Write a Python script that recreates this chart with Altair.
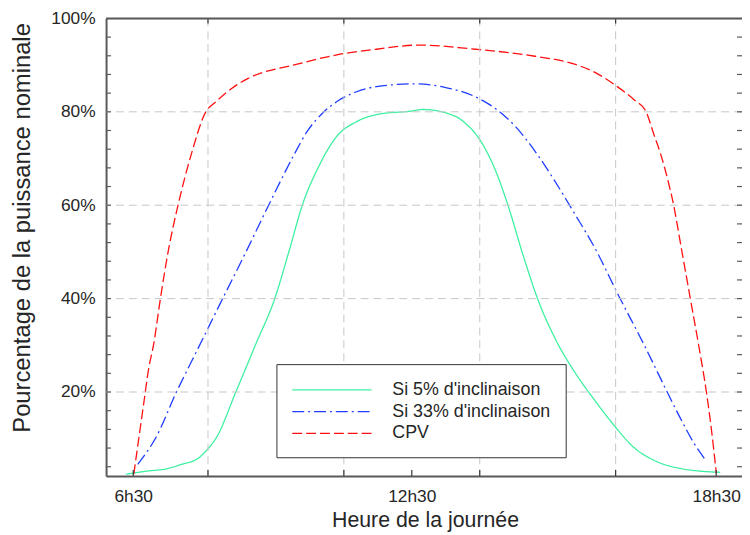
import altair as alt
import pandas as pd

# ---- data (x in sample-index units, y in % of nominal power) ----
series_names = ["Si 5% d'inclinaison", "Si 33% d'inclinaison", "CPV"]
series_colors = ["#3DF0A0", "#1F3DFF", "#FF1010"]
series_dash = [[1, 0], [12, 4, 2, 4], [10, 4]]

green_x = [39.6, 56.3, 68.7, 80.4, 92.8, 100.1, 105.9, 120.5, 135.1, 148.9, 159.9, 169.3,
           181.7, 194.9, 209.4, 227.7, 248.1, 258.3, 282.3, 289.6, 296.9, 304.2, 311.5,
           320.2, 331.9, 342.8, 355.2, 369.8, 384.4, 399.0, 413.5, 428.1, 450.0, 477.0]
green_y = [2.4, 3.1, 3.5, 4.5, 5.8, 7.9, 10.1, 20.0, 30.2, 39.8, 50.4, 59.9,
           68.4, 74.8, 77.9, 79.6, 80.1, 80.5, 79.0, 77.5, 75.3, 72.0, 67.5,
           60.5, 49.3, 39.8, 31.6, 24.3, 18.3, 12.8, 8.1, 5.4, 3.5, 2.8]

blue_x = [48.3, 52.7, 61.4, 76.8, 92.8, 109.6, 127.1, 143.8, 163.5, 173.0, 183.9,
          194.9, 209.4, 224.0, 253.2, 275.0, 296.9, 311.5, 326.1, 340.6, 355.2, 369.8,
          384.4, 402.6, 420.8, 437.6, 447.8, 457.3, 466.8]
blue_y = [4.5, 6.2, 10.1, 20.0, 29.4, 39.3, 49.5, 59.5, 70.9, 75.8, 79.6,
          82.2, 84.3, 85.4, 86.0, 85.2, 83.2, 80.7, 76.9, 71.6, 65.2, 58.2,
          51.0, 40.4, 30.2, 20.2, 14.3, 9.2, 5.2]

red_x = [45.4, 49.1, 52.7, 56.3, 60.0, 65.1, 70.9, 78.2, 87.7, 98.6, 105.2, 116.9, 129.2,
         165.7, 194.9, 224.0, 255.4, 296.9, 311.5, 340.6, 369.8, 384.4, 401.2, 413.5,
         422.3, 428.1, 433.2, 439.1, 442.0, 448.6, 455.1, 461.0, 466.8, 470.4, 474.1]
red_y = [2.4, 10.1, 17.5, 24.9, 30.2, 40.2, 50.4, 60.3, 70.9, 80.1, 82.0, 84.9, 87.1,
         90.2, 92.2, 93.4, 94.3, 93.4, 93.0, 91.9, 90.2, 88.5, 85.4, 82.6,
         80.1, 75.2, 70.9, 64.6, 61.0, 50.4, 39.8, 30.2, 20.0, 12.2, 2.6]

x_domain = [25, 493]
y_domain = [2, 100]
x_label_values = [45, 250, 474]
x_labels = ["6h30", "12h30", "18h30"]
x_grid_values = [100, 200, 300, 400]
y_label_values = [20, 40, 60, 80, 100]
y_grid_values = [20, 40, 60, 80]
y_minor_ticks = [4, 8, 12, 16, 20, 24, 28, 32, 36, 40, 44, 48, 52, 56, 60, 64, 68, 72,
                 76, 80, 84, 88, 92, 96]

W, H = 642, 462
FONT = "Liberation Sans"
AXIS_COLOR = "#595959"
GRID_COLOR = "#c6c6c9"
TEXT_COLOR = "#262626"

rows = []
for name, xs, ys in [(series_names[0], green_x, green_y),
                     (series_names[1], blue_x, blue_y),
                     (series_names[2], red_x, red_y)]:
    for i, (xv, yv) in enumerate(zip(xs, ys)):
        rows.append({"x": xv, "y": yv, "serie": name, "order": i})
df = pd.DataFrame(rows)

xscale = alt.Scale(domain=x_domain, nice=False, zero=False)
yscale = alt.Scale(domain=y_domain, nice=False, zero=False)

label_expr = " : ".join(
    f"datum.value == {v} ? '{l}'" for v, l in zip(x_label_values[:-1], x_labels[:-1])
) + f" : '{x_labels[-1]}'"

x_axis = alt.Axis(
    values=x_label_values, labelExpr=label_expr, ticks=False, grid=False,
    domainColor=AXIS_COLOR, domainWidth=2, labelFont=FONT, labelFontSize=17.5,
    labelColor=TEXT_COLOR, labelPadding=12, labelFlush=False,
    title="Heure de la journée", titleFont=FONT, titleFontSize=21.5,
    titleFontWeight="normal", titleColor=TEXT_COLOR, titleX=W / 2 + 1, titleY=51,
    titleBaseline="alphabetic", titleAlign="center")
y_axis = alt.Axis(
    values=y_label_values, labelExpr="datum.value + '%'", ticks=False, grid=False,
    domainColor=AXIS_COLOR, domainWidth=2, labelFont=FONT, labelFontSize=17.5,
    labelColor=TEXT_COLOR, labelPadding=11, labelBaseline="middle",
    title="Pourcentage de la puissance nominale", titleFont=FONT, titleFontSize=24,
    titleFontWeight="normal", titleColor=TEXT_COLOR, titleX=-77, titleY=211,
    titleAngle=-90, titleBaseline="alphabetic", titleAlign="center")

# custom wide line symbol: spans from -1 to 7 units (r = sqrt(size)/2 = 10 px)
legend_kw = dict(
    orient="none", legendX=172, legendY=349, title=None, direction="vertical",
    fillColor="white", strokeColor="#333333", padding=15, cornerRadius=0,
    symbolType="M-1,0H7", symbolSize=400, symbolStrokeWidth=1.3,
    labelFontSize=18, labelFont=FONT, labelColor=TEXT_COLOR, labelOffset=80,
    rowPadding=2, labelLimit=400,
)

lines = alt.Chart(df).mark_line(strokeWidth=1.3, interpolate="monotone").encode(
    x=alt.X("x:Q", scale=xscale, axis=x_axis),
    y=alt.Y("y:Q", scale=yscale, axis=y_axis),
    color=alt.Color("serie:N", scale=alt.Scale(domain=series_names, range=series_colors),
                    legend=alt.Legend(**legend_kw)),
    strokeDash=alt.StrokeDash("serie:N", scale=alt.Scale(domain=series_names, range=series_dash),
                              legend=alt.Legend(**legend_kw)),
    order="order:Q",
    detail="serie:N",
)

vgrid = alt.Chart(pd.DataFrame({"x": x_grid_values})).mark_rule(
    color=GRID_COLOR, strokeWidth=1, strokeDash=[8, 5]).encode(
    x=alt.X("x:Q", scale=xscale, axis=x_axis))
hgrid = alt.Chart(pd.DataFrame({"y": y_grid_values})).mark_rule(
    color=GRID_COLOR, strokeWidth=1, strokeDash=[8, 5]).encode(
    y=alt.Y("y:Q", scale=yscale, axis=y_axis))

left_ticks = alt.Chart(pd.DataFrame({"y": y_minor_ticks})).mark_rule(
    color=AXIS_COLOR, strokeWidth=1.2).encode(
    y=alt.Y("y:Q", scale=yscale, axis=y_axis), x=alt.value(0), x2=alt.value(5))
right_ticks = alt.Chart(pd.DataFrame({"y": y_minor_ticks})).mark_rule(
    color=AXIS_COLOR, strokeWidth=1.2).encode(
    y=alt.Y("y:Q", scale=yscale, axis=y_axis), x=alt.value(W - 5), x2=alt.value(W))
bottom_ticks = alt.Chart(pd.DataFrame({"x": x_grid_values + x_label_values})).mark_rule(
    color="#333333", strokeWidth=1.2).encode(
    x=alt.X("x:Q", scale=xscale, axis=x_axis), y=alt.value(H), y2=alt.value(H - 6))
top_ticks = alt.Chart(pd.DataFrame({"x": x_grid_values})).mark_rule(
    color="#333333", strokeWidth=1.2).encode(
    x=alt.X("x:Q", scale=xscale, axis=x_axis), y=alt.value(0), y2=alt.value(5))
top_border = alt.Chart(pd.DataFrame({"a": [0]})).mark_rule(
    color=AXIS_COLOR, strokeWidth=2).encode(
    x=alt.value(0), x2=alt.value(W), y=alt.value(0))

chart = alt.layer(
    lines, vgrid, hgrid, left_ticks, right_ticks, bottom_ticks, top_ticks, top_border
).properties(
    width=W, height=H,
    autosize=alt.AutoSizeParams(type="none"),
    padding={"left": 99, "top": 8, "right": 0, "bottom": 60},
).configure_view(strokeWidth=0).configure(background="white")

chart.save("out.html", embed_options={"renderer": "svg", "actions": False})
